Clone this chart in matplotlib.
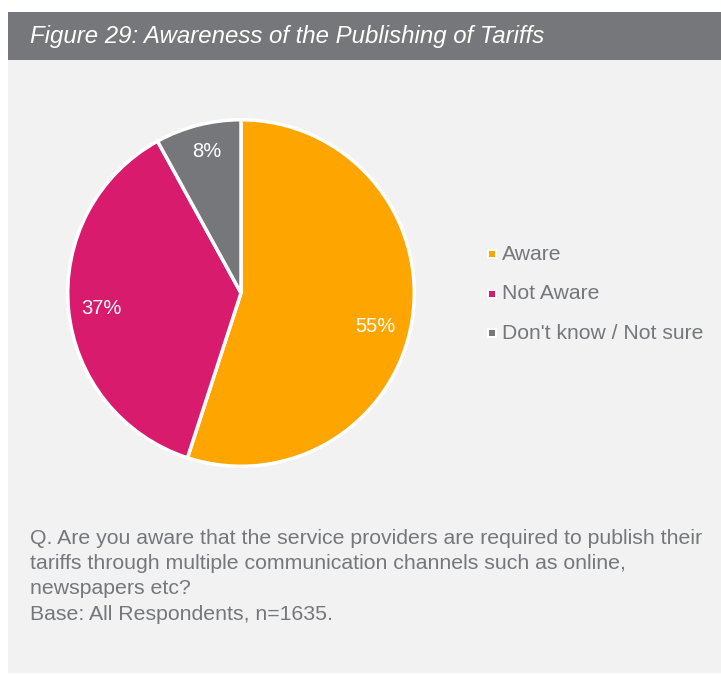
import matplotlib
matplotlib.use("Agg")
import numpy as np
import matplotlib.pyplot as plt
from matplotlib.patches import Rectangle

plt.rcParams['font.family'] = ['Liberation Sans', 'DejaVu Sans']

categories = ["Aware", "Not Aware", "Don't know / Not sure"]
values = [55, 37, 8]
colors = ["#FFA500", "#D81B6C", "#76777B"]

title = "Figure 29: Awareness of the Publishing of Tariffs"
note_lines = [
    "Q. Are you aware that the service providers are required to publish their",
    "tariffs through multiple communication channels such as online,",
    "newspapers etc?",
    "Base: All Respondents, n=1635.",
]

W, H = 721, 675
fig = plt.figure(figsize=(W / 100, H / 100), dpi=100)
fig.patch.set_facecolor("white")

def px(x, y):
    return x / W, 1 - y / H

# background panel and title bar
fig.patches.append(Rectangle(px(8, 673), (W - 8) / W, (673 - 60) / H,
                             transform=fig.transFigure, facecolor="#F2F2F2",
                             edgecolor="none", zorder=-2))
fig.patches.append(Rectangle(px(8, 60), (W - 8) / W, 48 / H,
                             transform=fig.transFigure, facecolor="#76777B",
                             edgecolor="none", zorder=-2))
fig.text(*px(30, 36), title, color="white", fontsize=17.3, style="italic",
         va="center", ha="left")

# pie
cx, cy, r = 241, 293, 175
ax = fig.add_axes([(cx - r) / W, 1 - (cy + r) / H, 2 * r / W, 2 * r / H])
ax.set_zorder(2)
ax.patch.set_visible(False)
wedges, texts, autotexts = ax.pie(
    values, colors=colors, startangle=90, counterclock=False,
    autopct=lambda p: f"{p:.0f}%", pctdistance=0.81,
    wedgeprops=dict(edgecolor="white", linewidth=2.5),
    textprops=dict(color="white", fontsize=14.5))

# place percentage labels inside each wedge (slightly below centre on the big one)
label_r = [0.80, 0.81, 0.84]
label_shift = [-5.0, 1.0, -0.7]
for w, t, lr, sh in zip(wedges, autotexts, label_r, label_shift):
    ang = np.deg2rad((w.theta1 + w.theta2) / 2 + sh)
    t.set_position((lr * np.cos(ang), lr * np.sin(ang)))

ax.set_aspect("equal")
ax.set_xlim(-1.01, 1.01)
ax.set_ylim(-1.01, 1.01)
ax.axis("off")

# legend
leg_y = [254, 294, 333]
for cat, col, y in zip(categories, colors, leg_y):
    fig.patches.append(Rectangle(px(487, y + 5), 10 / W, 10 / H,
                                 transform=fig.transFigure, facecolor="white",
                                 edgecolor="none", zorder=2))
    fig.patches.append(Rectangle(px(489, y + 3), 6 / W, 6 / H,
                                 transform=fig.transFigure, facecolor=col,
                                 edgecolor="none", zorder=3))
    fig.text(*px(502, y), cat, color="#76777B", fontsize=15.2,
             va="center", ha="left")

# question and base text
for i, line in enumerate(note_lines):
    fig.text(*px(30, 538 + i * 25.5), line, color="#76777B", fontsize=15.3,
             va="center", ha="left")

fig.savefig("out.png", dpi=100, facecolor=fig.get_facecolor())
